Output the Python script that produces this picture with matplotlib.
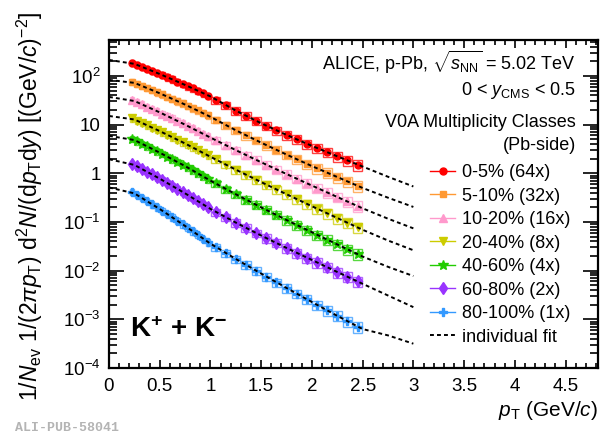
import numpy as np
import matplotlib
matplotlib.use("Agg")
import matplotlib.pyplot as plt
from matplotlib.lines import Line2D

plt.rcParams["font.family"] = "Liberation Sans"
plt.rcParams["mathtext.fontset"] = "custom"
plt.rcParams["mathtext.rm"] = "Liberation Sans"
plt.rcParams["mathtext.it"] = "Liberation Sans:italic"
plt.rcParams["mathtext.bf"] = "Liberation Sans:bold"

# pT bin centres (GeV/c): 50 MeV bins below 1 GeV, 100 MeV bins above
pt_low = [0.225, 0.275, 0.325, 0.375, 0.425, 0.475, 0.525, 0.575,
          0.625, 0.675, 0.725, 0.775, 0.825, 0.875, 0.925, 0.975]
pt_high = [1.05, 1.15, 1.25, 1.35, 1.45, 1.55, 1.65, 1.75,
           1.85, 1.95, 2.05, 2.15, 2.25, 2.35, 2.45]
pt = pt_low + pt_high

# scaled spectra for each V0A class
k_0_5 = [186, 170, 155, 141, 128, 116, 105, 94.6, 85.3, 76.9, 69.2, 62.1, 55.7, 49.9, 44.6, 39.7,
         32.4, 25.1, 19.5, 15.1, 12.0, 9.55, 7.67, 6.17, 5.01, 4.07, 3.31, 2.72, 2.24, 1.84, 1.51]
k_5_10 = [75.9, 69.0, 62.7, 56.9, 51.5, 46.6, 42.0, 37.8, 34.0, 30.5, 27.4, 24.5, 21.9, 19.6, 17.5, 15.5,
          12.6, 9.77, 7.67, 6.03, 4.79, 3.80, 3.02, 2.43, 1.95, 1.57, 1.27, 1.035, 0.841, 0.684, 0.556]
k_10_20 = [32.4, 29.2, 26.2, 23.6, 21.2, 19.0, 16.9, 15.1, 13.5, 12.0, 10.7, 9.46, 8.38, 7.41, 6.55, 5.77,
           4.84, 3.80, 3.00, 2.38, 1.89, 1.51, 1.21, 0.968, 0.778, 0.625, 0.504, 0.406, 0.327, 0.264, 0.213]
k_20_40 = [13.5, 12.1, 10.9, 9.77, 8.75, 7.82, 6.98, 6.22, 5.53, 4.92, 4.37, 3.86, 3.42, 3.02, 2.66, 2.34,
           1.95, 1.52, 1.19, 0.938, 0.741, 0.587, 0.467, 0.372, 0.296, 0.237, 0.189, 0.151, 0.121, 0.0970, 0.0778]
k_40_60 = [5.13, 4.57, 4.06, 3.61, 3.20, 2.83, 2.50, 2.21, 1.95, 1.71, 1.50, 1.32, 1.15, 1.005, 0.875, 0.760,
           0.624, 0.481, 0.372, 0.290, 0.226, 0.178, 0.140, 0.110, 0.0873, 0.0692, 0.0548, 0.0436, 0.0346, 0.0275, 0.0219]
k_60_80 = [1.58, 1.40, 1.23, 1.08, 0.951, 0.832, 0.728, 0.635, 0.553, 0.481, 0.417, 0.361, 0.313, 0.270, 0.232, 0.200,
           0.162, 0.125, 0.0973, 0.0759, 0.0594, 0.0468, 0.0370, 0.0293, 0.0233, 0.0185, 0.0148, 0.0118, 0.00940, 0.00752, 0.00603]
k_80_100 = [0.417, 0.361, 0.313, 0.270, 0.232, 0.200, 0.171, 0.146, 0.125, 0.106, 0.0902, 0.0764, 0.0646, 0.0545, 0.0458, 0.0385,
            0.0309, 0.0231, 0.0174, 0.0131, 0.00995, 0.00757, 0.00577, 0.00441, 0.00337, 0.00259, 0.00199, 0.00153, 0.00118, 0.000914, 0.000708]

# relative systematic uncertainty per bin
sys_rel = [0.15] * 16 + [0.16, 0.17, 0.17, 0.18, 0.18, 0.19, 0.19, 0.20, 0.20, 0.21, 0.22, 0.22, 0.23, 0.24, 0.25]

# individual fits evaluated on a pT grid
fit_pt = [0.0, 0.25, 0.5, 0.75, 1.0, 1.25, 1.5, 1.75, 2.0, 2.25, 2.5, 2.75, 3.0]
fit_0_5 = [214, 178, 110, 65.6, 38.0, 19.5, 10.7, 6.17, 3.67, 2.24, 1.38, 0.851, 0.537]
fit_5_10 = [83.2, 72.4, 44.2, 25.9, 14.5, 7.67, 4.27, 2.43, 1.41, 0.841, 0.501, 0.316, 0.204]
fit_10_20 = [37.2, 30.7, 17.9, 10.0, 5.43, 3.00, 1.69, 0.968, 0.561, 0.327, 0.191, 0.117, 0.0741]
fit_20_40 = [15.1, 12.8, 7.38, 4.11, 2.19, 1.19, 0.661, 0.372, 0.211, 0.121, 0.0692, 0.0417, 0.0263]
fit_40_60 = [5.89, 4.84, 2.66, 1.41, 0.708, 0.372, 0.200, 0.110, 0.0617, 0.0346, 0.0195, 0.0120, 0.00776]
fit_60_80 = [1.95, 1.49, 0.778, 0.388, 0.186, 0.0973, 0.0527, 0.0293, 0.0166, 0.0094, 0.00537, 0.00309, 0.00178]
fit_80_100 = [0.513, 0.388, 0.185, 0.0830, 0.0359, 0.0174, 0.00871, 0.00441, 0.00227, 0.00118, 0.000631, 0.000468, 0.000316]

labels = ["0-5% (64x)", "5-10% (32x)", "10-20% (16x)", "20-40% (8x)",
          "40-60% (4x)", "60-80% (2x)", "80-100% (1x)"]
spectra = [k_0_5, k_5_10, k_10_20, k_20_40, k_40_60, k_60_80, k_80_100]
fits = [fit_0_5, fit_5_10, fit_10_20, fit_20_40, fit_40_60, fit_60_80, fit_80_100]
colors = ["#ff0000", "#ff9933", "#ff99cc", "#cccc00", "#22cc00", "#9933ff", "#3399ff"]
markers = ["o", "s", "^", "v", "*", "d", "P"]
msizes = [5, 5, 6, 6, 7.5, 6, 6]

fig = plt.figure(figsize=(6.06, 4.48), dpi=100)
ax = fig.add_axes([109 / 606, 80 / 448, 489 / 606, 328 / 448])

x = np.array(pt)
srel = np.array(sys_rel)
box_w = np.where(x < 1.0, 0.045, 0.09)

for y, f, c, m, ms in zip(spectra, fits, colors, markers, msizes):
    y = np.array(y)
    ax.bar(x, 2 * y * srel, bottom=y * (1 - srel), width=box_w, fill=False,
           edgecolor=c, linewidth=1.0, alpha=0.75, zorder=2)
    ax.plot(x, y, linestyle="none", marker=m, ms=ms, color=c, mec=c, zorder=3)
    ax.plot(fit_pt, f, color="black", lw=1.4, dashes=(2, 1.6), zorder=4)

ax.set_yscale("log")
ax.set_xlim(0, 4.82)
ax.set_ylim(1e-4, 550)

ax.set_xticks([0, 0.5, 1, 1.5, 2, 2.5, 3, 3.5, 4, 4.5])
ax.set_xticklabels(["0", "0.5", "1", "1.5", "2", "2.5", "3", "3.5", "4", "4.5"])
ax.set_xticks(np.arange(0, 4.81, 0.1), minor=True)
ax.set_yticks([1e-4, 1e-3, 1e-2, 1e-1, 1, 10, 100])
ax.set_yticklabels([r"10$^{-4}$", r"10$^{-3}$", r"10$^{-2}$", r"10$^{-1}$", "1", "10", r"10$^{2}$"])
ax.tick_params(which="both", direction="in", top=True, right=True, labelsize=13.5, width=1.2)
ax.tick_params(axis="x", which="major", length=6, pad=7)
ax.tick_params(axis="x", which="minor", length=3.5)
ax.tick_params(axis="y", which="major", length=11, pad=6)
ax.tick_params(axis="y", which="minor", length=6)
for s in ax.spines.values():
    s.set_linewidth(1.6)

fig.text(576 / 606, 1 - 70 / 448, r"ALICE, p-Pb, $\sqrt{s_{\rm NN}}$ = 5.02 TeV",
         ha="right", va="baseline", fontsize=13)
fig.text(576 / 606, 1 - 95 / 448, r"0 < $y_{\rm CMS}$ < 0.5", ha="right", va="baseline", fontsize=13)
fig.text(576 / 606, 1 - 127 / 448, "V0A Multiplicity Classes", ha="right", va="baseline", fontsize=13)
fig.text(576 / 606, 1 - 150 / 448, "(Pb-side)", ha="right", va="baseline", fontsize=13)

handles = [Line2D([], [], color=c, lw=1, marker=m, ms=ms, mec=c)
           for c, m, ms in zip(colors, markers, msizes)]
handles.append(Line2D([], [], color="black", lw=1.4, dashes=(2, 1.6)))
ax.legend(handles, labels + ["individual fit"], loc="upper left",
          bbox_to_anchor=(430 / 606, 1 - 164 / 448), bbox_transform=fig.transFigure,
          frameon=False, fontsize=13, handlelength=1.4, handletextpad=0.37,
          labelspacing=0.36, borderpad=0, borderaxespad=0)

fig.text(130 / 606, 1 - 337 / 448, r"$\mathbf{K^{+}}$ + $\mathbf{K^{-}}$", fontsize=20,
         fontweight="bold", ha="left", va="baseline")

fig.text(598 / 606, 1 - 410 / 448, r"$p_{\rm T}$ (GeV/$c$)", ha="right", va="center", fontsize=15)
fig.text(30 / 606, 1 - 12 / 448,
         r"1/$N_{\rm ev}$ 1/(2$\pi p_{\rm T}$) d$^{2}N$/(d$p_{\rm T}$d$y$) [(GeV/$c$)$^{-2}$]",
         rotation=90, ha="center", va="top", fontsize=16.5)
fig.text(15 / 606, 1 - 428 / 448, "ALI-PUB-58041", family="Liberation Mono", fontweight="bold",
         color="#b4b4b4", fontsize=9.5, ha="left", va="center")

fig.savefig("out.png", dpi=100)
